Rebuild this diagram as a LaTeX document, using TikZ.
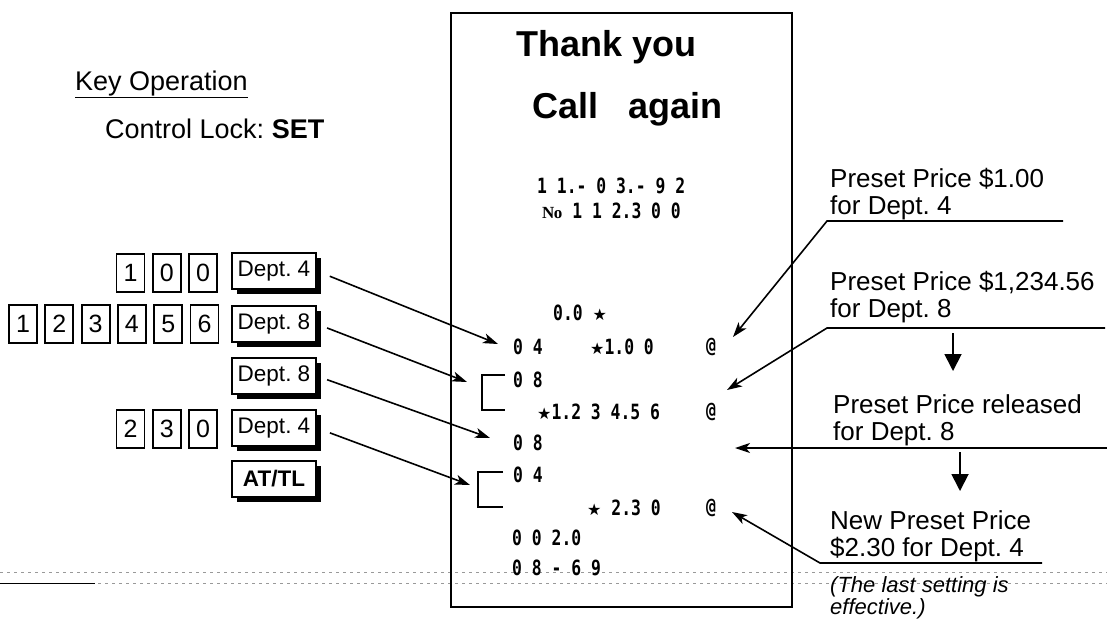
\documentclass[tikz,border=0pt]{standalone}
\usepackage{fontspec}
\setmainfont{Liberation Sans}
\newfontfamily\symfont{DejaVu Sans}
\newfontfamily\rcptfont[FakeStretch=0.78]{DejaVu Sans Mono}
\newfontfamily\nofont{Liberation Serif}
\usetikzlibrary{arrows.meta,positioning,shadows}
\frenchspacing
\newcommand{\annfont}{\fontsize{26}{27}\selectfont}
\newcommand{\leftfont}{\fontsize{27}{28}\selectfont}
\newcommand{\keyfont}{\fontsize{25}{26}\selectfont}
\newcommand{\deptfont}{\fontsize{22.5}{23}\selectfont}
\newcommand{\headfont}{\fontsize{36}{40}\selectfont\bfseries}
\newcommand{\rfont}{\rcptfont\bfseries\fontsize{21}{22}\selectfont}
\newcommand{\notefont}{\fontsize{22}{22}\selectfont\itshape}
\newcommand{\rstar}{{\symfont\bfseries\fontsize{16}{16}\selectfont ★}}
\tikzset{
  numkey/.style={
    draw,
    line width=1.8pt,
    minimum width=28pt,
    minimum height=38pt,
    inner sep=0pt,
    font=\keyfont
  },
  deptkey/.style={
    draw,
    line width=1.6pt,
    fill=white,
    minimum width=84pt,
    minimum height=36pt,
    inner sep=0pt,
    font=\deptfont,
    drop shadow={shadow xshift=4.5pt, shadow yshift=-5pt, fill=black, opacity=1}
  },
  rline/.style={anchor=west, inner sep=0pt, font=\rfont},
  annot/.style={anchor=base west, inner sep=0pt, align=left, font=\annfont},
  pointer/.style={-{Stealth[length=15pt,width=10pt,inset=4pt]}, line width=1.6pt},
  stepdown/.style={-{Triangle[length=17pt,width=17pt]}, line width=1.8pt},
  scanline/.style={draw=black!40, line width=0.6pt, dash pattern=on 3pt off 4pt}
}
\begin{document}
\begin{tikzpicture}[x=1pt, y=-1pt, node distance=6.5pt]
  \useasboundingbox (0,0) rectangle (1107,621);

  % key operation side
  \node[anchor=base west, inner sep=0pt, font=\leftfont] (title) at (75,90) {\underline{Key Operation}};
  \node[anchor=base west, inner sep=0pt, font=\leftfont] (lock) at (105,138) {Control Lock: \textbf{SET}};

  \node[numkey] (k1a) at (130.5,273) {1};
  \node[numkey, right=of k1a] (k1b) {0};
  \node[numkey, right=of k1b] (k1c) {0};
  \node[deptkey] (d1) at (274,271) {Dept. 4};

  \node[numkey] (k2a) at (23,324) {1};
  \node[numkey, right=of k2a] (k2b) {2};
  \node[numkey, right=of k2b] (k2c) {3};
  \node[numkey, right=of k2c] (k2d) {4};
  \node[numkey, right=of k2d] (k2e) {5};
  \node[numkey, right=of k2e] (k2f) {6};
  \node[deptkey] (d2) at (274,324) {Dept. 8};

  \node[deptkey] (d3) at (274,376) {Dept. 8};

  \node[numkey] (k4a) at (130.5,429) {2};
  \node[numkey, right=of k4a] (k4b) {3};
  \node[numkey, right=of k4b] (k4c) {0};
  \node[deptkey] (d4) at (274,428) {Dept. 4};

  \node[deptkey, font=\deptfont\bfseries] (attl) at (274,479) {AT/TL};

  % scanned fold lines
  \draw[scanline] (0,572) -- (1107,572);
  \draw[scanline] (0,583) -- (1107,583);
  \draw[line width=0.8pt] (0,583) -- (95,583);

  % receipt
  \draw[line width=1.8pt] (451,13) rectangle (792,607);
  \node[anchor=base west, inner sep=0pt, font=\headfont] (thanks) at (516,56) {Thank you};
  \node[anchor=base west, inner sep=0pt, font=\headfont] (again) at (532,118) {Call\ \ \ again};

  \node[rline] (date) at (537,186) {1 1.- 0 3.- 9 2};
  \node[rline] (serial) at (542,211) {{\nofont\bfseries\fontsize{17}{17}\selectfont N\kern-0.5pt o}\ 1 1 2.3 0 0};
  \node[rline] (void) at (553,313) {0.0 \rstar};

  \node[rline] (r04a) at (513,347) {0 4};
  \node[rline] (p1) at (590,347) {\rstar1.0 0};
  \node[rline] (at1) at (706,347) {@};

  \node[rline] (r08a) at (513,380) {0 8};
  \node[rline] (p2) at (537,412) {\rstar1.2 3 4.5 6};
  \node[rline] (at2) at (706,412) {@};

  \node[rline] (r08b) at (513,443) {0 8};

  \node[rline] (r04b) at (513,475) {0 4};
  \node[rline] (p3) at (587,508) {\rstar\ 2.3 0};
  \node[rline] (at3) at (706,508) {@};

  \node[rline] (total) at (512,538) {0 0 2.0};
  \node[rline] (clock) at (512,568) {0 8 - 6 9};

  \draw[line width=1.8pt] (505,375) -- (482,375) -- (482,410) -- (505,410);
  \draw[line width=1.8pt] (503,472) -- (478,472) -- (478,507) -- (503,507);

  \coordinate (t1) at (498,344);
  \coordinate (t2) at (467,382);
  \coordinate (t3) at (490,438);
  \coordinate (t4) at (470,485);
  \draw[pointer, shorten <=14pt] (d1.east) -- (t1);
  \draw[pointer, shorten <=11pt] (d2.east) -- (t2);
  \draw[pointer, shorten <=11pt] (d3.east) -- (t3);
  \draw[pointer, shorten <=14pt] (d4.east) -- (t4);

  % explanations
  \node[annot] (ann1) at (830,214) {Preset Price \$1.00\\for Dept. 4};
  \node[annot] (ann2) at (830,317) {Preset Price \$1,234.56\\for Dept. 8};
  \node[annot] (ann3) at (833,440) {Preset Price released\\for Dept. 8};
  \node[annot] (ann4) at (830,556) {New Preset Price\\\$2.30 for Dept. 4};
  \node[anchor=base west, inner sep=0pt, align=left, font=\notefont] (note) at (830,614) {(The last setting is\\effective.)};

  \coordinate (u1r) at (1063,221);
  \coordinate (u1l) at (827,221);
  \coordinate (u1t) at (733,337);
  \draw[pointer] (u1r) -- (u1l) -- (u1t);

  \coordinate (u2r) at (1105,328);
  \coordinate (u2l) at (827,328);
  \coordinate (u2t) at (727,390);
  \draw[pointer] (u2r) -- (u2l) -- (u2t);

  \coordinate (u3r) at (1107,448);
  \coordinate (u3t) at (735,448);
  \draw[pointer] (u3r) -- (u3t);

  \coordinate (u4r) at (1042,563);
  \coordinate (u4l) at (820,563);
  \coordinate (u4t) at (732,512);
  \draw[pointer] (u4r) -- (u4l) -- (u4t);

  \coordinate (s1a) at (953,333);
  \coordinate (s1b) at (953,371);
  \coordinate (s2a) at (960,452);
  \coordinate (s2b) at (960,491);
  \draw[stepdown] (s1a) -- (s1b);
  \draw[stepdown] (s2a) -- (s2b);
\end{tikzpicture}
\end{document}
